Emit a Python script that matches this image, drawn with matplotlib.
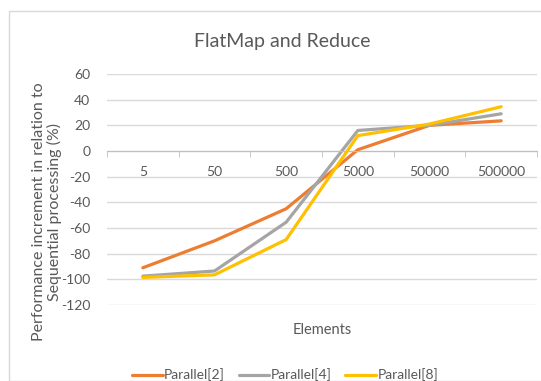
"""
FlatMap and Reduce: parallel vs sequential performance
"""

import matplotlib.pyplot as plt
from matplotlib.patches import Rectangle

elements = ["5", "50", "500", "5000", "50000", "500000"]
parallel_2 = [-91, -70, -45, 1, 20, 23.5]
parallel_4 = [-97.5, -93.5, -55.5, 16, 20, 29]
parallel_8 = [-98.5, -96.5, -69, 12, 21, 34.5]

series = [
    ("Parallel[2]", parallel_2, "#ED7D31"),
    ("Parallel[4]", parallel_4, "#A5A5A5"),
    ("Parallel[8]", parallel_8, "#FFC000"),
]

TEXT = "#595959"
plt.rcParams["font.family"] = ["Lato", "DejaVu Sans"]
plt.rcParams["axes.unicode_minus"] = False

W, H = 541, 381
fig = plt.figure(figsize=(W / 100, H / 100), dpi=100)
fig.patches.append(Rectangle((9 / W, 0), 1, 1 - 11 / H, transform=fig.transFigure,
                             fill=False, edgecolor="#d9d9d9", linewidth=1))

ax = fig.add_axes([107 / W, 1 - 305 / H, (537 - 107) / W, (305 - 74) / H])

x = range(len(elements))
for name, vals, color in series:
    ax.plot(x, vals, color=color, linewidth=2.3, label=name, solid_capstyle="round")

ax.set_xlim(-0.5, len(elements) - 0.5)
ax.set_ylim(-120, 60)
ax.set_yticks(range(-120, 61, 20))
ax.yaxis.grid(True, color="#d9d9d9", linewidth=1)
ax.set_axisbelow(True)

for side in ("left", "right", "top"):
    ax.spines[side].set_visible(False)
ax.spines["bottom"].set_position(("data", 0))
ax.spines["bottom"].set_color("#bfbfbf")

ax.set_xticks(list(x))
ax.set_xticklabels(elements)
ax.set_xticks([i - 0.5 for i in range(len(elements) + 1)], minor=True)
ax.tick_params(axis="x", which="major", length=0, pad=11, labelsize=10, labelcolor=TEXT)
ax.tick_params(axis="x", which="minor", length=4, color="#bfbfbf", direction="out")
ax.tick_params(axis="y", length=0, pad=12, labelsize=10, labelcolor=TEXT)

fig.text(282 / W, 1 - 41 / H, "FlatMap and Reduce", ha="center", va="center",
         fontsize=14, color=TEXT)
fig.text(322 / W, 1 - 330 / H, "Elements", ha="center", va="center",
         fontsize=10.5, color=TEXT)
fig.text(47 / W, 1 - 212 / H, "Performance increment in relation to\nSequential processing (%)",
         ha="center", va="center", rotation=90, fontsize=11.5, color=TEXT, linespacing=1.1)

fig.legend(loc="center", bbox_to_anchor=(285 / W, 1 - 375 / H), ncol=3, frameon=False,
           fontsize=10, labelcolor=TEXT, handlelength=2.2, handletextpad=0.1,
           columnspacing=1.0)

fig.savefig("out.png", dpi=100)
